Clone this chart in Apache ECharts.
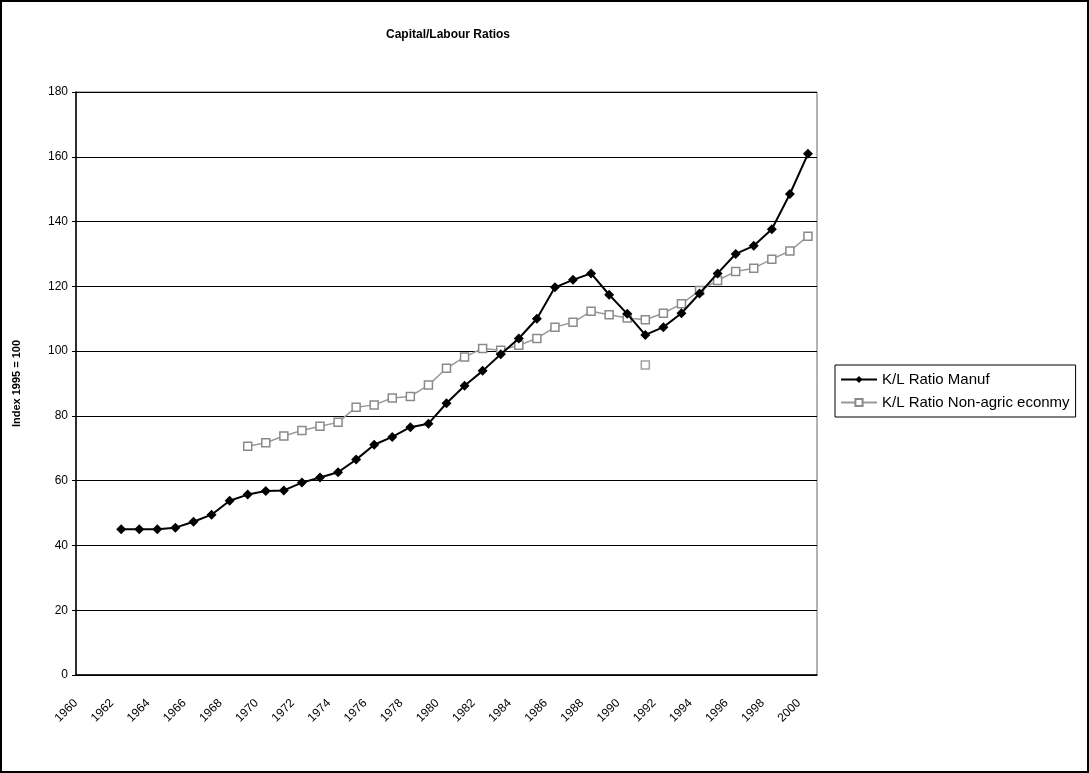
<!DOCTYPE html>
<html>
<head>
<meta charset="utf-8">
<script src="https://cdn.jsdelivr.net/npm/echarts@6/dist/echarts.min.js"></script>
<style>
  html, body { margin: 0; padding: 0; background: #fff; }
  #chart { width: 1089px; height: 773px; box-sizing: border-box; border: 2px solid #000; }
</style>
</head>
<body>
<div id="chart"></div>
<script>
// Categories (years)
const years = [];
for (let y = 1960; y <= 2000; y++) years.push(String(y));

// K/L Ratio Manuf, 1962-2000 (null for years without data)
const manuf = [null, null,
  45.0, 45.0, 45.0, 45.5, 47.3, 49.5, 53.8, 55.7, 56.8, 57.0,
  59.4, 61.0, 62.6, 66.5, 71.1, 73.5, 76.5, 77.6, 83.9, 89.3,
  93.9, 99.0, 103.9, 110.0, 119.7, 122.0, 124.0, 117.4, 111.5, 105.0,
  107.4, 111.7, 117.8, 124.0, 130.0, 132.5, 137.6, 148.5, 160.9];

// K/L Ratio Non-agric econmy, 1969-2000
const nonAgric = [null, null, null, null, null, null, null, null, null,
  70.6, 71.7, 73.8, 75.5, 76.8, 78.0, 82.7, 83.4, 85.5, 86.0, 89.5,
  94.7, 98.2, 100.8, 100.3, 101.8, 103.9, 107.4, 108.9, 112.3, 111.2,
  110.2, 109.7, 111.7, 114.6, 118.7, 121.8, 124.6, 125.6, 128.4, 130.9, 135.5];

// Stray square marker visible in the scan near 1991
const strayPoint = [['1991', 95.7]];

const yTicks = { min: 0, max: 180, interval: 20 };

const chart = echarts.init(document.getElementById('chart'));
const font = 'Liberation Sans, Arial, sans-serif';
chart.setOption({
  animation: false,
  backgroundColor: '#fff',
  title: {
    text: 'Capital/Labour Ratios',
    left: 441, top: 22, textAlign: 'center',
    textStyle: { fontFamily: font, fontSize: 12, fontWeight: 'bold', color: '#000' }
  },
  grid: { left: 74, right: 270, top: 90, bottom: 96, show: true, borderColor: '#666', borderWidth: 1 },
  legend: {
    data: ['K/L Ratio Manuf', 'K/L Ratio Non-agric econmy'],
    orient: 'vertical', left: 833, top: 363,
    borderColor: '#000', borderWidth: 1, padding: [7, 6, 7, 5],
    itemWidth: 36, itemHeight: 9, itemGap: 8,
    textStyle: { fontFamily: font, fontSize: 15, color: '#000' }
  },
  xAxis: {
    type: 'category', data: years, boundaryGap: true,
    axisLine: { lineStyle: { color: '#000', width: 1.5 } },
    axisTick: { interval: 1, length: 4, lineStyle: { color: '#000' } },
    axisLabel: {
      interval: 1, rotate: 45, margin: 17, padding: [0, 13, 0, 0],
      fontFamily: font, fontSize: 12, color: '#000'
    },
    splitLine: { show: false }
  },
  yAxis: {
    type: 'value', min: yTicks.min, max: yTicks.max, interval: yTicks.interval,
    name: 'Index 1995 = 100', nameLocation: 'middle', nameGap: 54,
    nameTextStyle: { fontFamily: font, fontSize: 11, fontWeight: 'bold', color: '#000' },
    axisLine: { show: true, lineStyle: { color: '#000', width: 1.5 } },
    axisTick: { show: true, length: 4, lineStyle: { color: '#000' } },
    axisLabel: { margin: 8, fontFamily: font, fontSize: 12, color: '#000' },
    splitLine: { lineStyle: { color: '#000', width: 1.2 } }
  },
  series: [
    {
      name: 'K/L Ratio Manuf', type: 'line', data: manuf,
      symbol: 'diamond', symbolSize: 10, showSymbol: true,
      lineStyle: { color: '#000', width: 2 },
      itemStyle: { color: '#000' }, z: 3
    },
    {
      name: 'K/L Ratio Non-agric econmy', type: 'line', data: nonAgric,
      symbol: 'rect', symbolSize: 8,
      lineStyle: { color: '#9a9a9a', width: 1.5 },
      itemStyle: { color: '#fff', borderColor: '#8a8a8a', borderWidth: 1.5 }, z: 2
    },
    {
      name: 'stray', type: 'scatter', data: strayPoint,
      symbol: 'rect', symbolSize: 8,
      itemStyle: { color: '#fff', borderColor: '#8a8a8a', borderWidth: 1.5 }, z: 2
    }
  ]
});
</script>
</body>
</html>
